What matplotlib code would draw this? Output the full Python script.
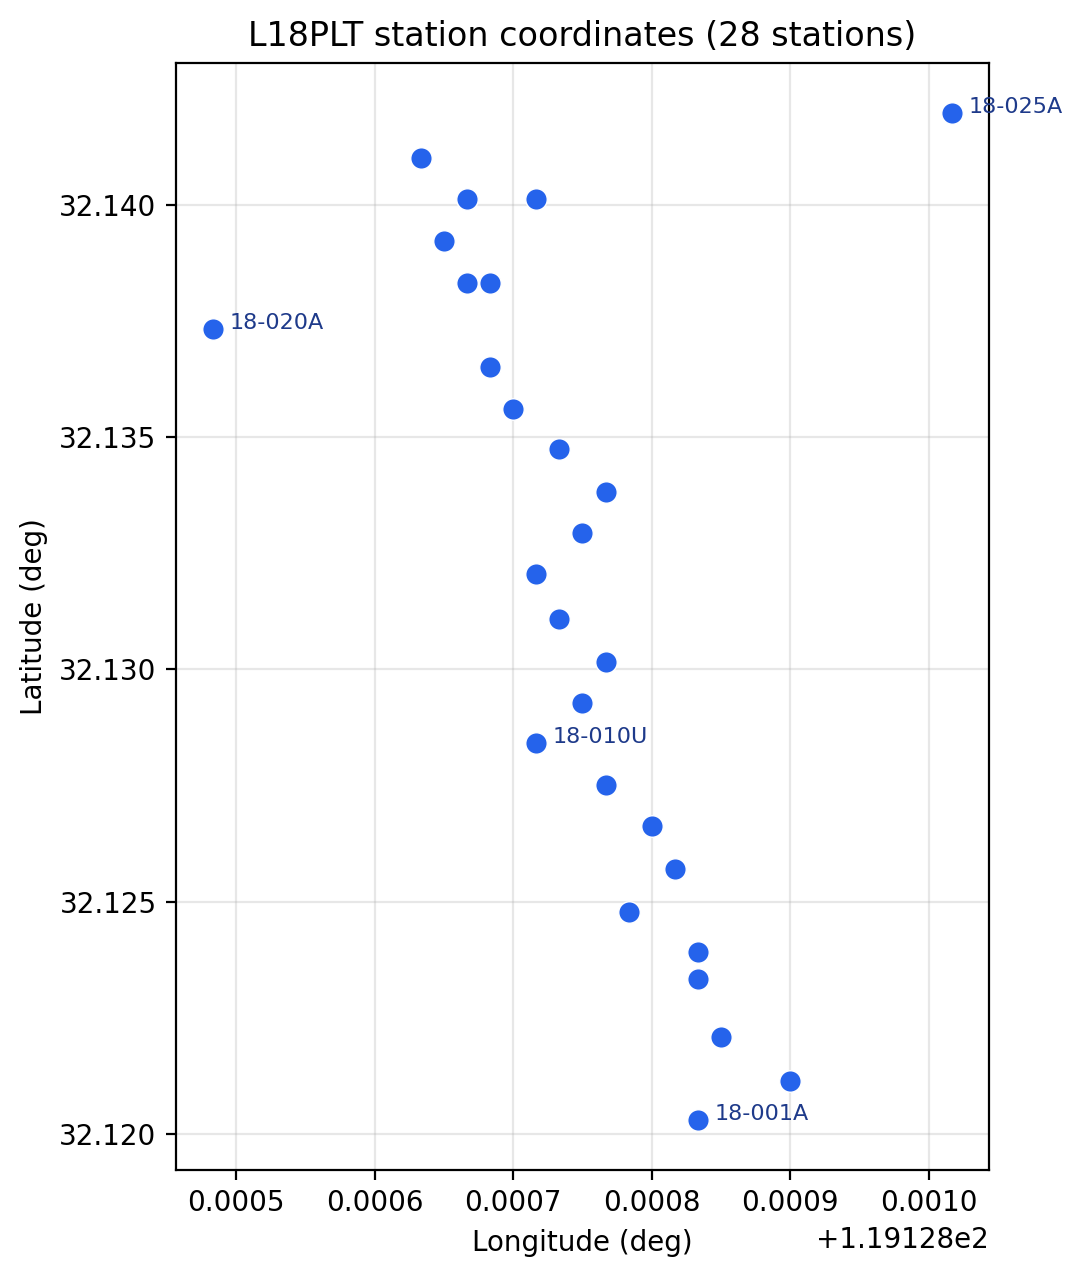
import matplotlib
matplotlib.use('Agg')
import matplotlib.pyplot as plt

# station coordinates (deg)
stations = ['18-001A', '18-002A', '18-003A', '18-004A', '18-005A', '18-006A', '18-007A',
            '18-008A', '18-009A', '18-010U', '18-011A', '18-012A', '18-013A', '18-014A',
            '18-015A', '18-016A', '18-017A', '18-018A', '18-019A', '18-020A', '18-021A',
            '18-022A', '18-023A', '18-024A', '18-024B', '18-026A', '18-027A', '18-025A']
lon = [119.1288333, 119.1289000, 119.1288500, 119.1288333, 119.1288333, 119.1287835,
       119.1288167, 119.1288000, 119.1287670, 119.1287165, 119.1287500, 119.1287670,
       119.1287330, 119.1287165, 119.1287500, 119.1287670, 119.1287330, 119.1287000,
       119.1286833, 119.1284834, 119.1286667, 119.1286833, 119.1286500, 119.1286667,
       119.1286667, 119.1287165, 119.1286335, 119.1290166]
lat = [32.12030, 32.12114, 32.12208, 32.12333, 32.12391, 32.12477, 32.12571,
       32.12662, 32.12752, 32.12842, 32.12928, 32.13016, 32.13109, 32.13205,
       32.13293, 32.13382, 32.13474, 32.13562, 32.13652, 32.13733, 32.13833,
       32.13833, 32.13923, 32.14013, 32.14013, 32.14013, 32.14102, 32.14198]
labelled = ['18-001A', '18-010U', '18-020A', '18-025A']

fig = plt.figure(figsize=(5.415, 6.39), dpi=200)
ax = fig.add_axes([0.1625, 0.0845, 0.7507, 0.8662])
ax.scatter(lon, lat, s=60, color='#2563eb', edgecolors='white', linewidths=0.5, zorder=3)
for name, x, y in zip(stations, lon, lat):
    if name in labelled:
        ax.annotate(name, (x, y), xytext=(6, 0), textcoords='offset points',
                    fontsize=8, color='#1e3a8a')
ax.grid(True, alpha=0.3)
ax.set_xlabel('Longitude (deg)')
ax.set_ylabel('Latitude (deg)')
ax.set_title(f'L18PLT station coordinates ({len(stations)} stations)')
fig.savefig('out.png', dpi=200)
